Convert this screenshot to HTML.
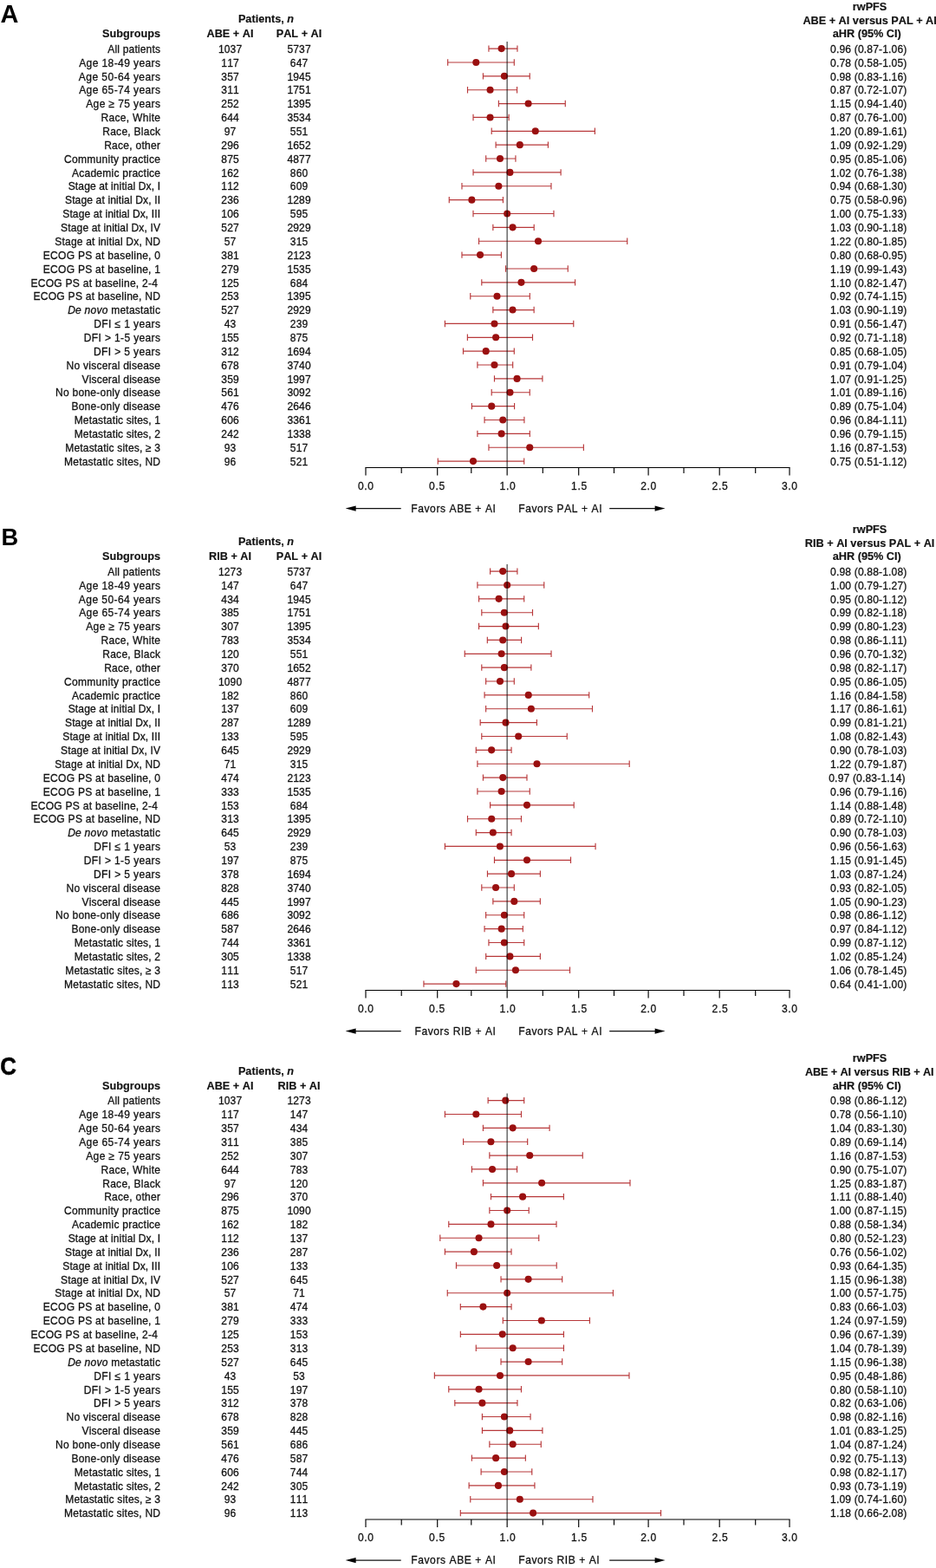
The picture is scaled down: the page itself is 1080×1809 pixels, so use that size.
<!DOCTYPE html>
<html lang="en"><head><meta charset="utf-8"><title>Forest plots: rwPFS subgroup analyses</title>
<style>
html,body{margin:0;padding:0;background:#fff;}
body{width:1080px;height:1809px;overflow:hidden;}
svg{display:block;font-family:"Liberation Sans",Arial,Helvetica,sans-serif;font-size:12.7px;fill:#111;font-kerning:none;}
text{stroke:#111;stroke-width:0.3px;}
text.b{font-weight:bold;fill:#111;stroke-width:0.15px;}
.r{text-anchor:end;}
.m{text-anchor:middle;}
text.L{font-weight:bold;font-size:29.5px;fill:#000;stroke:none;}
.e{stroke:#b8383a;stroke-width:1.15;fill:none;}
.c{fill:#9a1010;}
.ax{stroke:#000;stroke-width:1.15;fill:none;}
.v{stroke:#000;stroke-opacity:0.64;stroke-width:1.4;}
.ar{stroke:#111;stroke-width:1.05;}
</style></head><body>
<svg width="1080" height="1809" viewBox="0 0 1080 1809">
<rect width="1080" height="1809" fill="#fff"/>
<g transform="translate(0,0)">
<text class="L" transform="translate(0.6 26) scale(0.98 1)" style="font-size:29.5px;stroke:#000;stroke-width:0px">A</text>
<text class="b m" x="307" y="26.3">Patients, <tspan font-style="italic">n</tspan></text>
<text class="b r" x="185" y="43.3">Subgroups</text>
<text class="b m" x="265.5" y="43.3">ABE + AI</text>
<text class="b m" x="345" y="43.3">PAL + AI</text>
<text class="b m" x="1003.6" y="11.7">rwPFS</text>
<text class="b m" x="1003.6" y="27.8">ABE + AI versus PAL + AI</text>
<text class="b m" x="1000.3" y="43.3">aHR (95% CI)</text>
<text class="r" transform="translate(185 60.8) scale(0.95 1)" textLength="63.93">All patients</text>
<text class="m" transform="translate(265.5 60.8) scale(0.95 1)" textLength="28.68">1037</text>
<text class="m" transform="translate(345 60.8) scale(0.95 1)" textLength="28.68">5737</text>
<text class="m" transform="translate(1002.2 60.8) scale(0.95 1)" textLength="93.03">0.96 (0.87-1.06)</text>
<text class="r" transform="translate(185 76.67) scale(0.95 1)" textLength="98.79">Age 18-49 years</text>
<text class="m" transform="translate(265.5 76.67) scale(0.95 1)" textLength="21.51">117</text>
<text class="m" transform="translate(345 76.67) scale(0.95 1)" textLength="21.51">647</text>
<text class="m" transform="translate(1002.2 76.67) scale(0.95 1)" textLength="93.03">0.78 (0.58-1.05)</text>
<text class="r" transform="translate(185 92.53) scale(0.95 1)" textLength="99.1">Age 50-64 years</text>
<text class="m" transform="translate(265.5 92.53) scale(0.95 1)" textLength="21.51">357</text>
<text class="m" transform="translate(345 92.53) scale(0.95 1)" textLength="28.68">1945</text>
<text class="m" transform="translate(1002.2 92.53) scale(0.95 1)" textLength="93.03">0.98 (0.83-1.16)</text>
<text class="r" transform="translate(185 108.4) scale(0.95 1)" textLength="98.79">Age 65-74 years</text>
<text class="m" transform="translate(265.5 108.4) scale(0.95 1)" textLength="21.51">311</text>
<text class="m" transform="translate(345 108.4) scale(0.95 1)" textLength="28.68">1751</text>
<text class="m" transform="translate(1002.2 108.4) scale(0.95 1)" textLength="93.03">0.87 (0.72-1.07)</text>
<text class="r" transform="translate(185 124.27) scale(0.95 1)" textLength="90.38">Age ≥ 75 years</text>
<text class="m" transform="translate(265.5 124.27) scale(0.95 1)" textLength="21.51">252</text>
<text class="m" transform="translate(345 124.27) scale(0.95 1)" textLength="28.68">1395</text>
<text class="m" transform="translate(1002.2 124.27) scale(0.95 1)" textLength="93.03">1.15 (0.94-1.40)</text>
<text class="r" transform="translate(185 140.13) scale(0.95 1)" textLength="72.12">Race, White</text>
<text class="m" transform="translate(265.5 140.13) scale(0.95 1)" textLength="21.51">644</text>
<text class="m" transform="translate(345 140.13) scale(0.95 1)" textLength="28.68">3534</text>
<text class="m" transform="translate(1002.2 140.13) scale(0.95 1)" textLength="93.03">0.87 (0.76-1.00)</text>
<text class="r" transform="translate(185 156) scale(0.95 1)" textLength="70.32">Race, Black</text>
<text class="m" transform="translate(265.5 156) scale(0.95 1)" textLength="14.35">97</text>
<text class="m" transform="translate(345 156) scale(0.95 1)" textLength="21.51">551</text>
<text class="m" transform="translate(1002.2 156) scale(0.95 1)" textLength="93.03">1.20 (0.89-1.61)</text>
<text class="r" transform="translate(185 171.87) scale(0.95 1)" textLength="68.27">Race, other</text>
<text class="m" transform="translate(265.5 171.87) scale(0.95 1)" textLength="21.51">296</text>
<text class="m" transform="translate(345 171.87) scale(0.95 1)" textLength="28.68">1652</text>
<text class="m" transform="translate(1002.2 171.87) scale(0.95 1)" textLength="93.03">1.09 (0.92-1.29)</text>
<text class="r" transform="translate(185 187.74) scale(0.95 1)" textLength="116.75">Community practice</text>
<text class="m" transform="translate(265.5 187.74) scale(0.95 1)" textLength="21.51">875</text>
<text class="m" transform="translate(345 187.74) scale(0.95 1)" textLength="28.68">4877</text>
<text class="m" transform="translate(1002.2 187.74) scale(0.95 1)" textLength="93.03">0.95 (0.85-1.06)</text>
<text class="r" transform="translate(185 203.6) scale(0.95 1)" textLength="107.43">Academic practice</text>
<text class="m" transform="translate(265.5 203.6) scale(0.95 1)" textLength="21.51">162</text>
<text class="m" transform="translate(345 203.6) scale(0.95 1)" textLength="21.51">860</text>
<text class="m" transform="translate(1002.2 203.6) scale(0.95 1)" textLength="93.03">1.02 (0.76-1.38)</text>
<text class="r" transform="translate(185 219.47) scale(0.95 1)" textLength="111.91">Stage at initial Dx, I</text>
<text class="m" transform="translate(265.5 219.47) scale(0.95 1)" textLength="21.51">112</text>
<text class="m" transform="translate(345 219.47) scale(0.95 1)" textLength="21.51">609</text>
<text class="m" transform="translate(1002.2 219.47) scale(0.95 1)" textLength="93.03">0.94 (0.68-1.30)</text>
<text class="r" transform="translate(185 235.34) scale(0.95 1)" textLength="115.84">Stage at initial Dx, II</text>
<text class="m" transform="translate(265.5 235.34) scale(0.95 1)" textLength="21.51">236</text>
<text class="m" transform="translate(345 235.34) scale(0.95 1)" textLength="28.68">1289</text>
<text class="m" transform="translate(1002.2 235.34) scale(0.95 1)" textLength="93.03">0.75 (0.58-0.96)</text>
<text class="r" transform="translate(185 251.2) scale(0.95 1)" textLength="118.69">Stage at initial Dx, III</text>
<text class="m" transform="translate(265.5 251.2) scale(0.95 1)" textLength="21.51">106</text>
<text class="m" transform="translate(345 251.2) scale(0.95 1)" textLength="21.51">595</text>
<text class="m" transform="translate(1002.2 251.2) scale(0.95 1)" textLength="93.03">1.00 (0.75-1.33)</text>
<text class="r" transform="translate(185 267.07) scale(0.95 1)" textLength="121.03">Stage at initial Dx, IV</text>
<text class="m" transform="translate(265.5 267.07) scale(0.95 1)" textLength="21.51">527</text>
<text class="m" transform="translate(345 267.07) scale(0.95 1)" textLength="28.68">2929</text>
<text class="m" transform="translate(1002.2 267.07) scale(0.95 1)" textLength="93.03">1.03 (0.90-1.18)</text>
<text class="r" transform="translate(185 282.94) scale(0.95 1)" textLength="128.12">Stage at initial Dx, ND</text>
<text class="m" transform="translate(265.5 282.94) scale(0.95 1)" textLength="14.35">57</text>
<text class="m" transform="translate(345 282.94) scale(0.95 1)" textLength="21.51">315</text>
<text class="m" transform="translate(1002.2 282.94) scale(0.95 1)" textLength="93.03">1.22 (0.80-1.85)</text>
<text class="r" transform="translate(185 298.81) scale(0.95 1)" textLength="142.33">ECOG PS at baseline, 0</text>
<text class="m" transform="translate(265.5 298.81) scale(0.95 1)" textLength="21.51">381</text>
<text class="m" transform="translate(345 298.81) scale(0.95 1)" textLength="28.68">2123</text>
<text class="m" transform="translate(1002.2 298.81) scale(0.95 1)" textLength="93.03">0.80 (0.68-0.95)</text>
<text class="r" transform="translate(185 314.67) scale(0.95 1)" textLength="142.3">ECOG PS at baseline, 1</text>
<text class="m" transform="translate(265.5 314.67) scale(0.95 1)" textLength="21.51">279</text>
<text class="m" transform="translate(345 314.67) scale(0.95 1)" textLength="28.68">1535</text>
<text class="m" transform="translate(1002.2 314.67) scale(0.95 1)" textLength="93.03">1.19 (0.99-1.43)</text>
<text class="r" transform="translate(182 330.54) scale(0.95 1)" textLength="154.33">ECOG PS at baseline, 2-4</text>
<text class="m" transform="translate(265.5 330.54) scale(0.95 1)" textLength="21.51">125</text>
<text class="m" transform="translate(345 330.54) scale(0.95 1)" textLength="21.51">684</text>
<text class="m" transform="translate(1002.2 330.54) scale(0.95 1)" textLength="93.03">1.10 (0.82-1.47)</text>
<text class="r" transform="translate(185 346.41) scale(0.95 1)" textLength="154.33">ECOG PS at baseline, ND</text>
<text class="m" transform="translate(265.5 346.41) scale(0.95 1)" textLength="21.51">253</text>
<text class="m" transform="translate(345 346.41) scale(0.95 1)" textLength="28.68">1395</text>
<text class="m" transform="translate(1002.2 346.41) scale(0.95 1)" textLength="93.03">0.92 (0.74-1.15)</text>
<text class="r" transform="translate(185 362.27) scale(0.95 1)" textLength="112.45"><tspan font-style="italic">De novo</tspan> metastatic</text>
<text class="m" transform="translate(265.5 362.27) scale(0.95 1)" textLength="21.51">527</text>
<text class="m" transform="translate(345 362.27) scale(0.95 1)" textLength="28.68">2929</text>
<text class="m" transform="translate(1002.2 362.27) scale(0.95 1)" textLength="93.03">1.03 (0.90-1.19)</text>
<text class="r" transform="translate(185 378.14) scale(0.95 1)" textLength="80.84">DFI ≤ 1 years</text>
<text class="m" transform="translate(265.5 378.14) scale(0.95 1)" textLength="14.35">43</text>
<text class="m" transform="translate(345 378.14) scale(0.95 1)" textLength="21.51">239</text>
<text class="m" transform="translate(1002.2 378.14) scale(0.95 1)" textLength="93.03">0.91 (0.56-1.47)</text>
<text class="r" transform="translate(185 394.01) scale(0.95 1)" textLength="92.88">DFI &gt; 1-5 years</text>
<text class="m" transform="translate(265.5 394.01) scale(0.95 1)" textLength="21.51">155</text>
<text class="m" transform="translate(345 394.01) scale(0.95 1)" textLength="21.51">875</text>
<text class="m" transform="translate(1002.2 394.01) scale(0.95 1)" textLength="93.03">0.92 (0.71-1.18)</text>
<text class="r" transform="translate(185 409.87) scale(0.95 1)" textLength="81.01">DFI &gt; 5 years</text>
<text class="m" transform="translate(265.5 409.87) scale(0.95 1)" textLength="21.51">312</text>
<text class="m" transform="translate(345 409.87) scale(0.95 1)" textLength="28.68">1694</text>
<text class="m" transform="translate(1002.2 409.87) scale(0.95 1)" textLength="93.03">0.85 (0.68-1.05)</text>
<text class="r" transform="translate(185 425.74) scale(0.95 1)" textLength="114.09">No visceral disease</text>
<text class="m" transform="translate(265.5 425.74) scale(0.95 1)" textLength="21.51">678</text>
<text class="m" transform="translate(345 425.74) scale(0.95 1)" textLength="28.68">3740</text>
<text class="m" transform="translate(1002.2 425.74) scale(0.95 1)" textLength="93.03">0.91 (0.79-1.04)</text>
<text class="r" transform="translate(185 441.61) scale(0.95 1)" textLength="95.38">Visceral disease</text>
<text class="m" transform="translate(265.5 441.61) scale(0.95 1)" textLength="21.51">359</text>
<text class="m" transform="translate(345 441.61) scale(0.95 1)" textLength="28.68">1997</text>
<text class="m" transform="translate(1002.2 441.61) scale(0.95 1)" textLength="93.03">1.07 (0.91-1.25)</text>
<text class="r" transform="translate(185 457.48) scale(0.95 1)" textLength="127.32">No bone-only disease</text>
<text class="m" transform="translate(265.5 457.48) scale(0.95 1)" textLength="21.51">561</text>
<text class="m" transform="translate(345 457.48) scale(0.95 1)" textLength="28.68">3092</text>
<text class="m" transform="translate(1002.2 457.48) scale(0.95 1)" textLength="93.03">1.01 (0.89-1.16)</text>
<text class="r" transform="translate(185 473.34) scale(0.95 1)" textLength="108.01">Bone-only disease</text>
<text class="m" transform="translate(265.5 473.34) scale(0.95 1)" textLength="21.51">476</text>
<text class="m" transform="translate(345 473.34) scale(0.95 1)" textLength="28.68">2646</text>
<text class="m" transform="translate(1002.2 473.34) scale(0.95 1)" textLength="93.03">0.89 (0.75-1.04)</text>
<text class="r" transform="translate(185 489.21) scale(0.95 1)" textLength="104.58">Metastatic sites, 1</text>
<text class="m" transform="translate(265.5 489.21) scale(0.95 1)" textLength="21.51">606</text>
<text class="m" transform="translate(345 489.21) scale(0.95 1)" textLength="28.68">3361</text>
<text class="m" transform="translate(1002.2 489.21) scale(0.95 1)" textLength="93.03">0.96 (0.84-1.11)</text>
<text class="r" transform="translate(185 505.08) scale(0.95 1)" textLength="104.58">Metastatic sites, 2</text>
<text class="m" transform="translate(265.5 505.08) scale(0.95 1)" textLength="21.51">242</text>
<text class="m" transform="translate(345 505.08) scale(0.95 1)" textLength="28.68">1338</text>
<text class="m" transform="translate(1002.2 505.08) scale(0.95 1)" textLength="93.03">0.96 (0.79-1.15)</text>
<text class="r" transform="translate(185 520.94) scale(0.95 1)" textLength="115.61">Metastatic sites, ≥ 3</text>
<text class="m" transform="translate(265.5 520.94) scale(0.95 1)" textLength="14.35">93</text>
<text class="m" transform="translate(345 520.94) scale(0.95 1)" textLength="21.51">517</text>
<text class="m" transform="translate(1002.2 520.94) scale(0.95 1)" textLength="93.03">1.16 (0.87-1.53)</text>
<text class="r" transform="translate(185 536.81) scale(0.95 1)" textLength="116.88">Metastatic sites, ND</text>
<text class="m" transform="translate(265.5 536.81) scale(0.95 1)" textLength="14.35">96</text>
<text class="m" transform="translate(345 536.81) scale(0.95 1)" textLength="21.51">521</text>
<text class="m" transform="translate(1002.2 536.81) scale(0.95 1)" textLength="93.03">0.75 (0.51-1.12)</text>
<path class="e" d="M563.95 56.1H596.93M563.95 52.4V59.8M596.93 52.4V59.8M516.67 71.97H593.3M516.67 68.27V75.67M593.3 68.27V75.67M557.43 87.83H611.24M557.43 84.13V91.53M611.24 84.13V91.53M539.5 103.7H596.56M539.5 100V107.4M596.56 100V107.4M575.37 119.57H652.27M575.37 115.87V123.27M652.27 115.87V123.27M546.02 135.44H587.15M546.02 131.74V139.13M587.15 131.74V139.13M567.21 151.3H686.41M567.21 147.6V155M686.41 147.6V155M572.11 167.17H632.43M572.11 163.47V170.87M632.43 163.47V170.87M560.69 183.04H594.93M560.69 179.34V186.74M594.93 179.34V186.74M546.02 198.9H647.11M546.02 195.2V202.6M647.11 195.2V202.6M532.97 214.77H635.97M532.97 211.07V218.47M635.97 211.07V218.47M518.27 230.64H580.43M518.27 226.94V234.34M580.43 226.94V234.34M545.99 246.5H638.96M545.99 242.8V250.2M638.96 242.8V250.2M568.85 262.37H616.2M568.85 258.67V266.07M616.2 258.67V266.07M552.54 278.24H723.74M552.54 274.54V281.94M723.74 274.54V281.94M532.97 294.11H578.4M532.97 290.41V297.81M578.4 290.41V297.81M583.52 309.97H655.26M583.52 306.27V313.67M655.26 306.27V313.67M555.8 325.84H663.58M555.8 322.14V329.54M663.58 322.14V329.54M542.76 341.71H611.31M542.76 338.01V345.41M611.31 338.01V345.41M568.85 357.57H616.13M568.85 353.87V361.27M616.13 353.87V361.27M513.41 373.44H661.78M513.41 369.74V377.14M661.78 369.74V377.14M539.37 389.31H614.5M539.37 385.61V393.01M614.5 385.61V393.01M534.47 405.17H593.3M534.47 401.47V408.87M593.3 401.47V408.87M550.91 421.04H591.67M550.91 417.34V424.74M591.67 417.34V424.74M570.48 436.91H625.91M570.48 433.21V440.61M625.91 433.21V440.61M567.21 452.78H611.24M567.21 449.08V456.48M611.24 449.08V456.48M544.39 468.64H593.57M544.39 464.94V472.34M593.57 464.94V472.34M559.06 484.51H604.89M559.06 480.81V488.21M604.89 480.81V488.21M550.91 500.38H611.31M550.91 496.68V504.08M611.31 496.68V504.08M563.95 516.24H673.37M563.95 512.54V519.94M673.37 512.54V519.94M505.26 532.11H604.72M505.26 528.41V535.81M604.72 528.41V535.81"/>
<circle class="c" cx="578.63" cy="56.1" r="4.05"/>
<circle class="c" cx="549.28" cy="71.97" r="4.05"/>
<circle class="c" cx="581.89" cy="87.83" r="4.05"/>
<circle class="c" cx="565.55" cy="103.7" r="4.05"/>
<circle class="c" cx="609.61" cy="119.57" r="4.05"/>
<circle class="c" cx="565.55" cy="135.44" r="4.05"/>
<circle class="c" cx="617.76" cy="151.3" r="4.05"/>
<circle class="c" cx="599.82" cy="167.17" r="4.05"/>
<circle class="c" cx="577" cy="183.04" r="4.05"/>
<circle class="c" cx="588.41" cy="198.9" r="4.05"/>
<circle class="c" cx="575.37" cy="214.77" r="4.05"/>
<circle class="c" cx="544.39" cy="230.64" r="4.05"/>
<circle class="c" cx="585.15" cy="246.5" r="4.05"/>
<circle class="c" cx="591.54" cy="262.37" r="4.05"/>
<circle class="c" cx="621.02" cy="278.24" r="4.05"/>
<circle class="c" cx="554.04" cy="294.11" r="4.05"/>
<circle class="c" cx="616.13" cy="309.97" r="4.05"/>
<circle class="c" cx="601.46" cy="325.84" r="4.05"/>
<circle class="c" cx="573.51" cy="341.71" r="4.05"/>
<circle class="c" cx="591.54" cy="357.57" r="4.05"/>
<circle class="c" cx="570.48" cy="373.44" r="4.05"/>
<circle class="c" cx="572.11" cy="389.31" r="4.05"/>
<circle class="c" cx="560.69" cy="405.17" r="4.05"/>
<circle class="c" cx="570.48" cy="421.04" r="4.05"/>
<circle class="c" cx="596.56" cy="436.91" r="4.05"/>
<circle class="c" cx="588.48" cy="452.78" r="4.05"/>
<circle class="c" cx="567.21" cy="468.64" r="4.05"/>
<circle class="c" cx="580.23" cy="484.51" r="4.05"/>
<circle class="c" cx="578.63" cy="500.38" r="4.05"/>
<circle class="c" cx="611.24" cy="516.24" r="4.05"/>
<circle class="c" cx="545.99" cy="532.11" r="4.05"/>
<line class="v" x1="585.15" x2="585.15" y1="48" y2="539.5"/>
<path class="ax" d="M421.35 539.5H911.65M422 539.5V548.6M463.2 539.5V545.9M504.7 539.5V548.6M543.8 539.5V545.9M585.15 539.5V548.6M626.3 539.5V545.9M667.7 539.5V548.6M708.5 539.5V545.9M748.1 539.5V548.6M789 539.5V545.9M830.2 539.5V548.6M871.7 539.5V545.9M911 539.5V548.6"/>
<text class="m" transform="translate(422 564.9) scale(0.95 1)" textLength="18.99">0.0</text>
<text class="m" transform="translate(504.1 564.9) scale(0.95 1)" textLength="18.99">0.5</text>
<text class="m" transform="translate(585.6 564.9) scale(0.95 1)" textLength="18.99">1.0</text>
<text class="m" transform="translate(668.1 564.9) scale(0.95 1)" textLength="18.99">1.5</text>
<text class="m" transform="translate(748.2 564.9) scale(0.95 1)" textLength="18.99">2.0</text>
<text class="m" transform="translate(830.6 564.9) scale(0.95 1)" textLength="18.99">2.5</text>
<text class="m" transform="translate(911 564.9) scale(0.95 1)" textLength="18.99">3.0</text>
<text class="r" transform="translate(571.9 591.3) scale(0.95 1)" textLength="102.78">Favors ABE + AI</text>
<text transform="translate(598.3 591.3) scale(0.95 1)" textLength="101.3">Favors PAL + AI</text>
<line class="ar" x1="409" x2="462.7" y1="586.6" y2="586.6"/>
<path d="M398.6 586.6L410.6 583.5L410.6 589.7Z" fill="#000"/>
<line class="ar" x1="703.2" x2="757" y1="586.6" y2="586.6"/>
<path d="M767.6 586.6L755.6 583.5L755.6 589.7Z" fill="#000"/>
</g>
<g transform="translate(0,603)">
<text class="L" transform="translate(1.45 25.7) scale(0.977 1)" style="font-size:27.9px;stroke:#000;stroke-width:0px">B</text>
<text class="b m" x="307" y="26.3">Patients, <tspan font-style="italic">n</tspan></text>
<text class="b r" x="185" y="43.3">Subgroups</text>
<text class="b m" x="265.5" y="43.3">RIB + AI</text>
<text class="b m" x="345" y="43.3">PAL + AI</text>
<text class="b m" x="1003.6" y="11.7">rwPFS</text>
<text class="b m" x="1003.6" y="27.8">RIB + AI versus PAL + AI</text>
<text class="b m" x="1000.3" y="43.3">aHR (95% CI)</text>
<text class="r" transform="translate(185 60.8) scale(0.95 1)" textLength="63.93">All patients</text>
<text class="m" transform="translate(265.5 60.8) scale(0.95 1)" textLength="28.68">1273</text>
<text class="m" transform="translate(345 60.8) scale(0.95 1)" textLength="28.68">5737</text>
<text class="m" transform="translate(1002.2 60.8) scale(0.95 1)" textLength="93.03">0.98 (0.88-1.08)</text>
<text class="r" transform="translate(185 76.67) scale(0.95 1)" textLength="98.79">Age 18-49 years</text>
<text class="m" transform="translate(265.5 76.67) scale(0.95 1)" textLength="21.51">147</text>
<text class="m" transform="translate(345 76.67) scale(0.95 1)" textLength="21.51">647</text>
<text class="m" transform="translate(1002.2 76.67) scale(0.95 1)" textLength="93.03">1.00 (0.79-1.27)</text>
<text class="r" transform="translate(185 92.53) scale(0.95 1)" textLength="99.1">Age 50-64 years</text>
<text class="m" transform="translate(265.5 92.53) scale(0.95 1)" textLength="21.51">434</text>
<text class="m" transform="translate(345 92.53) scale(0.95 1)" textLength="28.68">1945</text>
<text class="m" transform="translate(1002.2 92.53) scale(0.95 1)" textLength="93.03">0.95 (0.80-1.12)</text>
<text class="r" transform="translate(185 108.4) scale(0.95 1)" textLength="98.79">Age 65-74 years</text>
<text class="m" transform="translate(265.5 108.4) scale(0.95 1)" textLength="21.51">385</text>
<text class="m" transform="translate(345 108.4) scale(0.95 1)" textLength="28.68">1751</text>
<text class="m" transform="translate(1002.2 108.4) scale(0.95 1)" textLength="93.03">0.99 (0.82-1.18)</text>
<text class="r" transform="translate(185 124.27) scale(0.95 1)" textLength="90.38">Age ≥ 75 years</text>
<text class="m" transform="translate(265.5 124.27) scale(0.95 1)" textLength="21.51">307</text>
<text class="m" transform="translate(345 124.27) scale(0.95 1)" textLength="28.68">1395</text>
<text class="m" transform="translate(1002.2 124.27) scale(0.95 1)" textLength="93.03">0.99 (0.80-1.23)</text>
<text class="r" transform="translate(185 140.13) scale(0.95 1)" textLength="72.12">Race, White</text>
<text class="m" transform="translate(265.5 140.13) scale(0.95 1)" textLength="21.51">783</text>
<text class="m" transform="translate(345 140.13) scale(0.95 1)" textLength="28.68">3534</text>
<text class="m" transform="translate(1002.2 140.13) scale(0.95 1)" textLength="93.03">0.98 (0.86-1.11)</text>
<text class="r" transform="translate(185 156) scale(0.95 1)" textLength="70.32">Race, Black</text>
<text class="m" transform="translate(265.5 156) scale(0.95 1)" textLength="21.51">120</text>
<text class="m" transform="translate(345 156) scale(0.95 1)" textLength="21.51">551</text>
<text class="m" transform="translate(1002.2 156) scale(0.95 1)" textLength="93.03">0.96 (0.70-1.32)</text>
<text class="r" transform="translate(185 171.87) scale(0.95 1)" textLength="68.27">Race, other</text>
<text class="m" transform="translate(265.5 171.87) scale(0.95 1)" textLength="21.51">370</text>
<text class="m" transform="translate(345 171.87) scale(0.95 1)" textLength="28.68">1652</text>
<text class="m" transform="translate(1002.2 171.87) scale(0.95 1)" textLength="93.03">0.98 (0.82-1.17)</text>
<text class="r" transform="translate(185 187.74) scale(0.95 1)" textLength="116.75">Community practice</text>
<text class="m" transform="translate(265.5 187.74) scale(0.95 1)" textLength="28.68">1090</text>
<text class="m" transform="translate(345 187.74) scale(0.95 1)" textLength="28.68">4877</text>
<text class="m" transform="translate(1002.2 187.74) scale(0.95 1)" textLength="93.03">0.95 (0.86-1.05)</text>
<text class="r" transform="translate(185 203.6) scale(0.95 1)" textLength="107.43">Academic practice</text>
<text class="m" transform="translate(265.5 203.6) scale(0.95 1)" textLength="21.51">182</text>
<text class="m" transform="translate(345 203.6) scale(0.95 1)" textLength="21.51">860</text>
<text class="m" transform="translate(1002.2 203.6) scale(0.95 1)" textLength="93.03">1.16 (0.84-1.58)</text>
<text class="r" transform="translate(185 219.47) scale(0.95 1)" textLength="111.91">Stage at initial Dx, I</text>
<text class="m" transform="translate(265.5 219.47) scale(0.95 1)" textLength="21.51">137</text>
<text class="m" transform="translate(345 219.47) scale(0.95 1)" textLength="21.51">609</text>
<text class="m" transform="translate(1002.2 219.47) scale(0.95 1)" textLength="93.03">1.17 (0.86-1.61)</text>
<text class="r" transform="translate(185 235.34) scale(0.95 1)" textLength="115.84">Stage at initial Dx, II</text>
<text class="m" transform="translate(265.5 235.34) scale(0.95 1)" textLength="21.51">287</text>
<text class="m" transform="translate(345 235.34) scale(0.95 1)" textLength="28.68">1289</text>
<text class="m" transform="translate(1002.2 235.34) scale(0.95 1)" textLength="93.03">0.99 (0.81-1.21)</text>
<text class="r" transform="translate(185 251.2) scale(0.95 1)" textLength="118.69">Stage at initial Dx, III</text>
<text class="m" transform="translate(265.5 251.2) scale(0.95 1)" textLength="21.51">133</text>
<text class="m" transform="translate(345 251.2) scale(0.95 1)" textLength="21.51">595</text>
<text class="m" transform="translate(1002.2 251.2) scale(0.95 1)" textLength="93.03">1.08 (0.82-1.43)</text>
<text class="r" transform="translate(185 267.07) scale(0.95 1)" textLength="121.03">Stage at initial Dx, IV</text>
<text class="m" transform="translate(265.5 267.07) scale(0.95 1)" textLength="21.51">645</text>
<text class="m" transform="translate(345 267.07) scale(0.95 1)" textLength="28.68">2929</text>
<text class="m" transform="translate(1002.2 267.07) scale(0.95 1)" textLength="93.03">0.90 (0.78-1.03)</text>
<text class="r" transform="translate(185 282.94) scale(0.95 1)" textLength="128.12">Stage at initial Dx, ND</text>
<text class="m" transform="translate(265.5 282.94) scale(0.95 1)" textLength="14.35">71</text>
<text class="m" transform="translate(345 282.94) scale(0.95 1)" textLength="21.51">315</text>
<text class="m" transform="translate(1002.2 282.94) scale(0.95 1)" textLength="93.03">1.22 (0.79-1.87)</text>
<text class="r" transform="translate(185 298.81) scale(0.95 1)" textLength="142.33">ECOG PS at baseline, 0</text>
<text class="m" transform="translate(265.5 298.81) scale(0.95 1)" textLength="21.51">474</text>
<text class="m" transform="translate(345 298.81) scale(0.95 1)" textLength="28.68">2123</text>
<text class="m" transform="translate(1000.4 298.81) scale(0.95 1)" textLength="93.03">0.97 (0.83-1.14)</text>
<text class="r" transform="translate(185 314.67) scale(0.95 1)" textLength="142.3">ECOG PS at baseline, 1</text>
<text class="m" transform="translate(265.5 314.67) scale(0.95 1)" textLength="21.51">333</text>
<text class="m" transform="translate(345 314.67) scale(0.95 1)" textLength="28.68">1535</text>
<text class="m" transform="translate(1002.2 314.67) scale(0.95 1)" textLength="93.03">0.96 (0.79-1.16)</text>
<text class="r" transform="translate(182 330.54) scale(0.95 1)" textLength="154.33">ECOG PS at baseline, 2-4</text>
<text class="m" transform="translate(265.5 330.54) scale(0.95 1)" textLength="21.51">153</text>
<text class="m" transform="translate(345 330.54) scale(0.95 1)" textLength="21.51">684</text>
<text class="m" transform="translate(1002.2 330.54) scale(0.95 1)" textLength="93.03">1.14 (0.88-1.48)</text>
<text class="r" transform="translate(185 346.41) scale(0.95 1)" textLength="154.33">ECOG PS at baseline, ND</text>
<text class="m" transform="translate(265.5 346.41) scale(0.95 1)" textLength="21.51">313</text>
<text class="m" transform="translate(345 346.41) scale(0.95 1)" textLength="28.68">1395</text>
<text class="m" transform="translate(1002.2 346.41) scale(0.95 1)" textLength="93.03">0.89 (0.72-1.10)</text>
<text class="r" transform="translate(185 362.27) scale(0.95 1)" textLength="112.45"><tspan font-style="italic">De novo</tspan> metastatic</text>
<text class="m" transform="translate(265.5 362.27) scale(0.95 1)" textLength="21.51">645</text>
<text class="m" transform="translate(345 362.27) scale(0.95 1)" textLength="28.68">2929</text>
<text class="m" transform="translate(1002.2 362.27) scale(0.95 1)" textLength="93.03">0.90 (0.78-1.03)</text>
<text class="r" transform="translate(185 378.14) scale(0.95 1)" textLength="80.84">DFI ≤ 1 years</text>
<text class="m" transform="translate(265.5 378.14) scale(0.95 1)" textLength="14.35">53</text>
<text class="m" transform="translate(345 378.14) scale(0.95 1)" textLength="21.51">239</text>
<text class="m" transform="translate(1002.2 378.14) scale(0.95 1)" textLength="93.03">0.96 (0.56-1.63)</text>
<text class="r" transform="translate(185 394.01) scale(0.95 1)" textLength="92.88">DFI &gt; 1-5 years</text>
<text class="m" transform="translate(265.5 394.01) scale(0.95 1)" textLength="21.51">197</text>
<text class="m" transform="translate(345 394.01) scale(0.95 1)" textLength="21.51">875</text>
<text class="m" transform="translate(1002.2 394.01) scale(0.95 1)" textLength="93.03">1.15 (0.91-1.45)</text>
<text class="r" transform="translate(185 409.87) scale(0.95 1)" textLength="81.01">DFI &gt; 5 years</text>
<text class="m" transform="translate(265.5 409.87) scale(0.95 1)" textLength="21.51">378</text>
<text class="m" transform="translate(345 409.87) scale(0.95 1)" textLength="28.68">1694</text>
<text class="m" transform="translate(1002.2 409.87) scale(0.95 1)" textLength="93.03">1.03 (0.87-1.24)</text>
<text class="r" transform="translate(185 425.74) scale(0.95 1)" textLength="114.09">No visceral disease</text>
<text class="m" transform="translate(265.5 425.74) scale(0.95 1)" textLength="21.51">828</text>
<text class="m" transform="translate(345 425.74) scale(0.95 1)" textLength="28.68">3740</text>
<text class="m" transform="translate(1002.2 425.74) scale(0.95 1)" textLength="93.03">0.93 (0.82-1.05)</text>
<text class="r" transform="translate(185 441.61) scale(0.95 1)" textLength="95.38">Visceral disease</text>
<text class="m" transform="translate(265.5 441.61) scale(0.95 1)" textLength="21.51">445</text>
<text class="m" transform="translate(345 441.61) scale(0.95 1)" textLength="28.68">1997</text>
<text class="m" transform="translate(1002.2 441.61) scale(0.95 1)" textLength="93.03">1.05 (0.90-1.23)</text>
<text class="r" transform="translate(185 457.48) scale(0.95 1)" textLength="127.32">No bone-only disease</text>
<text class="m" transform="translate(265.5 457.48) scale(0.95 1)" textLength="21.51">686</text>
<text class="m" transform="translate(345 457.48) scale(0.95 1)" textLength="28.68">3092</text>
<text class="m" transform="translate(1002.2 457.48) scale(0.95 1)" textLength="93.03">0.98 (0.86-1.12)</text>
<text class="r" transform="translate(185 473.34) scale(0.95 1)" textLength="108.01">Bone-only disease</text>
<text class="m" transform="translate(265.5 473.34) scale(0.95 1)" textLength="21.51">587</text>
<text class="m" transform="translate(345 473.34) scale(0.95 1)" textLength="28.68">2646</text>
<text class="m" transform="translate(1002.2 473.34) scale(0.95 1)" textLength="93.03">0.97 (0.84-1.12)</text>
<text class="r" transform="translate(185 489.21) scale(0.95 1)" textLength="104.58">Metastatic sites, 1</text>
<text class="m" transform="translate(265.5 489.21) scale(0.95 1)" textLength="21.51">744</text>
<text class="m" transform="translate(345 489.21) scale(0.95 1)" textLength="28.68">3361</text>
<text class="m" transform="translate(1002.2 489.21) scale(0.95 1)" textLength="93.03">0.99 (0.87-1.12)</text>
<text class="r" transform="translate(185 505.08) scale(0.95 1)" textLength="104.58">Metastatic sites, 2</text>
<text class="m" transform="translate(265.5 505.08) scale(0.95 1)" textLength="21.51">305</text>
<text class="m" transform="translate(345 505.08) scale(0.95 1)" textLength="28.68">1338</text>
<text class="m" transform="translate(1002.2 505.08) scale(0.95 1)" textLength="93.03">1.02 (0.85-1.24)</text>
<text class="r" transform="translate(185 520.94) scale(0.95 1)" textLength="115.61">Metastatic sites, ≥ 3</text>
<text class="m" transform="translate(265.5 520.94) scale(0.95 1)" textLength="21.51">111</text>
<text class="m" transform="translate(345 520.94) scale(0.95 1)" textLength="21.51">517</text>
<text class="m" transform="translate(1002.2 520.94) scale(0.95 1)" textLength="93.03">1.06 (0.78-1.45)</text>
<text class="r" transform="translate(185 536.81) scale(0.95 1)" textLength="116.88">Metastatic sites, ND</text>
<text class="m" transform="translate(265.5 536.81) scale(0.95 1)" textLength="21.51">113</text>
<text class="m" transform="translate(345 536.81) scale(0.95 1)" textLength="21.51">521</text>
<text class="m" transform="translate(1002.2 536.81) scale(0.95 1)" textLength="93.03">0.64 (0.41-1.00)</text>
<path class="e" d="M565.58 56.1H596.89M565.58 52.4V59.8M596.89 52.4V59.8M550.91 71.97H627.77M550.91 68.27V75.67M627.77 68.27V75.67M552.54 87.83H604.72M552.54 84.13V91.53M604.72 84.13V91.53M555.8 103.7H614.5M555.8 100V107.4M614.5 100V107.4M552.54 119.57H621.35M552.54 115.87V123.27M621.35 115.87V123.27M562.32 135.44H601.59M562.32 131.74V139.13M601.59 131.74V139.13M536.24 151.3H636.03M536.24 147.6V155M636.03 147.6V155M555.8 167.17H612.87M555.8 163.47V170.87M612.87 163.47V170.87M560.62 183.04H593.3M560.62 179.34V186.74M593.3 179.34V186.74M559.06 198.9H679.72M559.06 195.2V202.6M679.72 195.2V202.6M560.62 214.77H683.51M560.62 211.07V218.47M683.51 211.07V218.47M554.17 230.64H619.39M554.17 226.94V234.34M619.39 226.94V234.34M555.8 246.5H654.26M555.8 242.8V250.2M654.26 242.8V250.2M549.28 262.37H590.04M549.28 258.67V266.07M590.04 258.67V266.07M550.91 278.24H726.2M550.91 274.54V281.94M726.2 274.54V281.94M557.43 294.11H607.98M557.43 290.41V297.81M607.98 290.41V297.81M550.91 309.97H611.24M550.91 306.27V313.67M611.24 306.27V313.67M565.58 325.84H662.21M565.58 322.14V329.54M662.21 322.14V329.54M539.5 341.71H601.46M539.5 338.01V345.41M601.46 338.01V345.41M549.28 357.57H590.04M549.28 353.87V361.27M590.04 353.87V361.27M513.41 373.44H687.07M513.41 369.74V377.14M687.07 369.74V377.14M570.48 389.31H658.52M570.48 385.61V393.01M658.52 385.61V393.01M562.45 405.17H623.38M562.45 401.47V408.87M623.38 401.47V408.87M555.8 421.04H593.3M555.8 417.34V424.74M593.3 417.34V424.74M568.85 436.91H623.35M568.85 433.21V440.61M623.35 433.21V440.61M560.62 452.78H604.72M560.62 449.08V456.48M604.72 449.08V456.48M559.06 468.64H603.32M559.06 464.94V472.34M603.32 464.94V472.34M563.95 484.51H604.72M563.95 480.81V488.21M604.72 480.81V488.21M560.69 500.38H623.38M560.69 496.68V504.08M623.38 496.68V504.08M549.28 516.24H657.52M549.28 512.54V519.94M657.52 512.54V519.94M488.95 532.11H583.75M488.95 528.41V535.81M583.75 528.41V535.81"/>
<circle class="c" cx="580.19" cy="56.1" r="4.05"/>
<circle class="c" cx="585.15" cy="71.97" r="4.05"/>
<circle class="c" cx="575.6" cy="87.83" r="4.05"/>
<circle class="c" cx="581.82" cy="103.7" r="4.05"/>
<circle class="c" cx="583.52" cy="119.57" r="4.05"/>
<circle class="c" cx="580.19" cy="135.44" r="4.05"/>
<circle class="c" cx="578.63" cy="151.3" r="4.05"/>
<circle class="c" cx="581.89" cy="167.17" r="4.05"/>
<circle class="c" cx="577" cy="183.04" r="4.05"/>
<circle class="c" cx="609.74" cy="198.9" r="4.05"/>
<circle class="c" cx="612.87" cy="214.77" r="4.05"/>
<circle class="c" cx="583.52" cy="230.64" r="4.05"/>
<circle class="c" cx="598.19" cy="246.5" r="4.05"/>
<circle class="c" cx="567.14" cy="262.37" r="4.05"/>
<circle class="c" cx="619.52" cy="278.24" r="4.05"/>
<circle class="c" cx="580.26" cy="294.11" r="4.05"/>
<circle class="c" cx="578.63" cy="309.97" r="4.05"/>
<circle class="c" cx="607.98" cy="325.84" r="4.05"/>
<circle class="c" cx="567.21" cy="341.71" r="4.05"/>
<circle class="c" cx="568.85" cy="357.57" r="4.05"/>
<circle class="c" cx="576.93" cy="373.44" r="4.05"/>
<circle class="c" cx="608.01" cy="389.31" r="4.05"/>
<circle class="c" cx="590.04" cy="405.17" r="4.05"/>
<circle class="c" cx="572.04" cy="421.04" r="4.05"/>
<circle class="c" cx="593.3" cy="436.91" r="4.05"/>
<circle class="c" cx="581.89" cy="452.78" r="4.05"/>
<circle class="c" cx="578.66" cy="468.64" r="4.05"/>
<circle class="c" cx="581.82" cy="484.51" r="4.05"/>
<circle class="c" cx="588.41" cy="500.38" r="4.05"/>
<circle class="c" cx="594.93" cy="516.24" r="4.05"/>
<circle class="c" cx="526.45" cy="532.11" r="4.05"/>
<line class="v" x1="585.15" x2="585.15" y1="48" y2="539.5"/>
<path class="ax" d="M421.35 539.5H911.65M422 539.5V548.6M463.2 539.5V545.9M504.7 539.5V548.6M543.8 539.5V545.9M585.15 539.5V548.6M626.3 539.5V545.9M667.7 539.5V548.6M708.5 539.5V545.9M748.1 539.5V548.6M789 539.5V545.9M830.2 539.5V548.6M871.7 539.5V545.9M911 539.5V548.6"/>
<text class="m" transform="translate(422 564.9) scale(0.95 1)" textLength="18.99">0.0</text>
<text class="m" transform="translate(504.1 564.9) scale(0.95 1)" textLength="18.99">0.5</text>
<text class="m" transform="translate(585.6 564.9) scale(0.95 1)" textLength="18.99">1.0</text>
<text class="m" transform="translate(668.1 564.9) scale(0.95 1)" textLength="18.99">1.5</text>
<text class="m" transform="translate(748.2 564.9) scale(0.95 1)" textLength="18.99">2.0</text>
<text class="m" transform="translate(830.6 564.9) scale(0.95 1)" textLength="18.99">2.5</text>
<text class="m" transform="translate(911 564.9) scale(0.95 1)" textLength="18.99">3.0</text>
<text class="r" transform="translate(571.9 591.3) scale(0.95 1)" textLength="98.32">Favors RIB + AI</text>
<text transform="translate(598.3 591.3) scale(0.95 1)" textLength="101.3">Favors PAL + AI</text>
<line class="ar" x1="409" x2="462.7" y1="586.6" y2="586.6"/>
<path d="M398.6 586.6L410.6 583.5L410.6 589.7Z" fill="#000"/>
<line class="ar" x1="703.2" x2="757" y1="586.6" y2="586.6"/>
<path d="M767.6 586.6L755.6 583.5L755.6 589.7Z" fill="#000"/>
</g>
<g transform="translate(0,1213.5)">
<text class="L" transform="translate(0.3 26.4) scale(0.885 1)" style="font-size:29.2px;stroke:#000;stroke-width:0.6px">C</text>
<text class="b m" x="307" y="26.3">Patients, <tspan font-style="italic">n</tspan></text>
<text class="b r" x="185" y="43.3">Subgroups</text>
<text class="b m" x="265.5" y="43.3">ABE + AI</text>
<text class="b m" x="345" y="43.3">RIB + AI</text>
<text class="b m" x="1003.6" y="11.7">rwPFS</text>
<text class="b m" x="1003.2" y="27.8" textLength="148.6">ABE + AI versus RIB + AI</text>
<text class="b m" x="1000.3" y="43.3">aHR (95% CI)</text>
<text class="r" transform="translate(185 60.8) scale(0.95 1)" textLength="63.93">All patients</text>
<text class="m" transform="translate(265.5 60.8) scale(0.95 1)" textLength="28.68">1037</text>
<text class="m" transform="translate(345 60.8) scale(0.95 1)" textLength="28.68">1273</text>
<text class="m" transform="translate(1002.2 60.8) scale(0.95 1)" textLength="93.03">0.98 (0.86-1.12)</text>
<text class="r" transform="translate(185 76.67) scale(0.95 1)" textLength="98.79">Age 18-49 years</text>
<text class="m" transform="translate(265.5 76.67) scale(0.95 1)" textLength="21.51">117</text>
<text class="m" transform="translate(345 76.67) scale(0.95 1)" textLength="21.51">147</text>
<text class="m" transform="translate(1002.2 76.67) scale(0.95 1)" textLength="93.03">0.78 (0.56-1.10)</text>
<text class="r" transform="translate(185 92.53) scale(0.95 1)" textLength="99.1">Age 50-64 years</text>
<text class="m" transform="translate(265.5 92.53) scale(0.95 1)" textLength="21.51">357</text>
<text class="m" transform="translate(345 92.53) scale(0.95 1)" textLength="21.51">434</text>
<text class="m" transform="translate(1002.2 92.53) scale(0.95 1)" textLength="93.03">1.04 (0.83-1.30)</text>
<text class="r" transform="translate(185 108.4) scale(0.95 1)" textLength="98.79">Age 65-74 years</text>
<text class="m" transform="translate(265.5 108.4) scale(0.95 1)" textLength="21.51">311</text>
<text class="m" transform="translate(345 108.4) scale(0.95 1)" textLength="21.51">385</text>
<text class="m" transform="translate(1002.2 108.4) scale(0.95 1)" textLength="93.03">0.89 (0.69-1.14)</text>
<text class="r" transform="translate(185 124.27) scale(0.95 1)" textLength="90.38">Age ≥ 75 years</text>
<text class="m" transform="translate(265.5 124.27) scale(0.95 1)" textLength="21.51">252</text>
<text class="m" transform="translate(345 124.27) scale(0.95 1)" textLength="21.51">307</text>
<text class="m" transform="translate(1002.2 124.27) scale(0.95 1)" textLength="93.03">1.16 (0.87-1.53)</text>
<text class="r" transform="translate(185 140.13) scale(0.95 1)" textLength="72.12">Race, White</text>
<text class="m" transform="translate(265.5 140.13) scale(0.95 1)" textLength="21.51">644</text>
<text class="m" transform="translate(345 140.13) scale(0.95 1)" textLength="21.51">783</text>
<text class="m" transform="translate(1002.2 140.13) scale(0.95 1)" textLength="93.03">0.90 (0.75-1.07)</text>
<text class="r" transform="translate(185 156) scale(0.95 1)" textLength="70.32">Race, Black</text>
<text class="m" transform="translate(265.5 156) scale(0.95 1)" textLength="14.35">97</text>
<text class="m" transform="translate(345 156) scale(0.95 1)" textLength="21.51">120</text>
<text class="m" transform="translate(1002.2 156) scale(0.95 1)" textLength="93.03">1.25 (0.83-1.87)</text>
<text class="r" transform="translate(185 171.87) scale(0.95 1)" textLength="68.27">Race, other</text>
<text class="m" transform="translate(265.5 171.87) scale(0.95 1)" textLength="21.51">296</text>
<text class="m" transform="translate(345 171.87) scale(0.95 1)" textLength="21.51">370</text>
<text class="m" transform="translate(1002.2 171.87) scale(0.95 1)" textLength="93.03">1.11 (0.88-1.40)</text>
<text class="r" transform="translate(185 187.74) scale(0.95 1)" textLength="116.75">Community practice</text>
<text class="m" transform="translate(265.5 187.74) scale(0.95 1)" textLength="21.51">875</text>
<text class="m" transform="translate(345 187.74) scale(0.95 1)" textLength="28.68">1090</text>
<text class="m" transform="translate(1002.2 187.74) scale(0.95 1)" textLength="93.03">1.00 (0.87-1.15)</text>
<text class="r" transform="translate(185 203.6) scale(0.95 1)" textLength="107.43">Academic practice</text>
<text class="m" transform="translate(265.5 203.6) scale(0.95 1)" textLength="21.51">162</text>
<text class="m" transform="translate(345 203.6) scale(0.95 1)" textLength="21.51">182</text>
<text class="m" transform="translate(1002.2 203.6) scale(0.95 1)" textLength="93.03">0.88 (0.58-1.34)</text>
<text class="r" transform="translate(185 219.47) scale(0.95 1)" textLength="111.91">Stage at initial Dx, I</text>
<text class="m" transform="translate(265.5 219.47) scale(0.95 1)" textLength="21.51">112</text>
<text class="m" transform="translate(345 219.47) scale(0.95 1)" textLength="21.51">137</text>
<text class="m" transform="translate(1002.2 219.47) scale(0.95 1)" textLength="93.03">0.80 (0.52-1.23)</text>
<text class="r" transform="translate(185 235.34) scale(0.95 1)" textLength="115.84">Stage at initial Dx, II</text>
<text class="m" transform="translate(265.5 235.34) scale(0.95 1)" textLength="21.51">236</text>
<text class="m" transform="translate(345 235.34) scale(0.95 1)" textLength="21.51">287</text>
<text class="m" transform="translate(1002.2 235.34) scale(0.95 1)" textLength="93.03">0.76 (0.56-1.02)</text>
<text class="r" transform="translate(185 251.2) scale(0.95 1)" textLength="118.69">Stage at initial Dx, III</text>
<text class="m" transform="translate(265.5 251.2) scale(0.95 1)" textLength="21.51">106</text>
<text class="m" transform="translate(345 251.2) scale(0.95 1)" textLength="21.51">133</text>
<text class="m" transform="translate(1002.2 251.2) scale(0.95 1)" textLength="93.03">0.93 (0.64-1.35)</text>
<text class="r" transform="translate(185 267.07) scale(0.95 1)" textLength="121.03">Stage at initial Dx, IV</text>
<text class="m" transform="translate(265.5 267.07) scale(0.95 1)" textLength="21.51">527</text>
<text class="m" transform="translate(345 267.07) scale(0.95 1)" textLength="21.51">645</text>
<text class="m" transform="translate(1002.2 267.07) scale(0.95 1)" textLength="93.03">1.15 (0.96-1.38)</text>
<text class="r" transform="translate(185 282.94) scale(0.95 1)" textLength="128.12">Stage at initial Dx, ND</text>
<text class="m" transform="translate(265.5 282.94) scale(0.95 1)" textLength="14.35">57</text>
<text class="m" transform="translate(345 282.94) scale(0.95 1)" textLength="14.35">71</text>
<text class="m" transform="translate(1002.2 282.94) scale(0.95 1)" textLength="93.03">1.00 (0.57-1.75)</text>
<text class="r" transform="translate(185 298.81) scale(0.95 1)" textLength="142.33">ECOG PS at baseline, 0</text>
<text class="m" transform="translate(265.5 298.81) scale(0.95 1)" textLength="21.51">381</text>
<text class="m" transform="translate(345 298.81) scale(0.95 1)" textLength="21.51">474</text>
<text class="m" transform="translate(1002.2 298.81) scale(0.95 1)" textLength="93.03">0.83 (0.66-1.03)</text>
<text class="r" transform="translate(185 314.67) scale(0.95 1)" textLength="142.3">ECOG PS at baseline, 1</text>
<text class="m" transform="translate(265.5 314.67) scale(0.95 1)" textLength="21.51">279</text>
<text class="m" transform="translate(345 314.67) scale(0.95 1)" textLength="21.51">333</text>
<text class="m" transform="translate(1002.2 314.67) scale(0.95 1)" textLength="93.03">1.24 (0.97-1.59)</text>
<text class="r" transform="translate(182 330.54) scale(0.95 1)" textLength="154.33">ECOG PS at baseline, 2-4</text>
<text class="m" transform="translate(265.5 330.54) scale(0.95 1)" textLength="21.51">125</text>
<text class="m" transform="translate(345 330.54) scale(0.95 1)" textLength="21.51">153</text>
<text class="m" transform="translate(1002.2 330.54) scale(0.95 1)" textLength="93.03">0.96 (0.67-1.39)</text>
<text class="r" transform="translate(185 346.41) scale(0.95 1)" textLength="154.33">ECOG PS at baseline, ND</text>
<text class="m" transform="translate(265.5 346.41) scale(0.95 1)" textLength="21.51">253</text>
<text class="m" transform="translate(345 346.41) scale(0.95 1)" textLength="21.51">313</text>
<text class="m" transform="translate(1002.2 346.41) scale(0.95 1)" textLength="93.03">1.04 (0.78-1.39)</text>
<text class="r" transform="translate(185 362.27) scale(0.95 1)" textLength="112.45"><tspan font-style="italic">De novo</tspan> metastatic</text>
<text class="m" transform="translate(265.5 362.27) scale(0.95 1)" textLength="21.51">527</text>
<text class="m" transform="translate(345 362.27) scale(0.95 1)" textLength="21.51">645</text>
<text class="m" transform="translate(1002.2 362.27) scale(0.95 1)" textLength="93.03">1.15 (0.96-1.38)</text>
<text class="r" transform="translate(185 378.14) scale(0.95 1)" textLength="80.84">DFI ≤ 1 years</text>
<text class="m" transform="translate(265.5 378.14) scale(0.95 1)" textLength="14.35">43</text>
<text class="m" transform="translate(345 378.14) scale(0.95 1)" textLength="14.35">53</text>
<text class="m" transform="translate(1002.2 378.14) scale(0.95 1)" textLength="93.03">0.95 (0.48-1.86)</text>
<text class="r" transform="translate(185 394.01) scale(0.95 1)" textLength="92.88">DFI &gt; 1-5 years</text>
<text class="m" transform="translate(265.5 394.01) scale(0.95 1)" textLength="21.51">155</text>
<text class="m" transform="translate(345 394.01) scale(0.95 1)" textLength="21.51">197</text>
<text class="m" transform="translate(1002.2 394.01) scale(0.95 1)" textLength="93.03">0.80 (0.58-1.10)</text>
<text class="r" transform="translate(185 409.87) scale(0.95 1)" textLength="81.01">DFI &gt; 5 years</text>
<text class="m" transform="translate(265.5 409.87) scale(0.95 1)" textLength="21.51">312</text>
<text class="m" transform="translate(345 409.87) scale(0.95 1)" textLength="21.51">378</text>
<text class="m" transform="translate(1002.2 409.87) scale(0.95 1)" textLength="93.03">0.82 (0.63-1.06)</text>
<text class="r" transform="translate(185 425.74) scale(0.95 1)" textLength="114.09">No visceral disease</text>
<text class="m" transform="translate(265.5 425.74) scale(0.95 1)" textLength="21.51">678</text>
<text class="m" transform="translate(345 425.74) scale(0.95 1)" textLength="21.51">828</text>
<text class="m" transform="translate(1002.2 425.74) scale(0.95 1)" textLength="93.03">0.98 (0.82-1.16)</text>
<text class="r" transform="translate(185 441.61) scale(0.95 1)" textLength="95.38">Visceral disease</text>
<text class="m" transform="translate(265.5 441.61) scale(0.95 1)" textLength="21.51">359</text>
<text class="m" transform="translate(345 441.61) scale(0.95 1)" textLength="21.51">445</text>
<text class="m" transform="translate(1002.2 441.61) scale(0.95 1)" textLength="93.03">1.01 (0.83-1.25)</text>
<text class="r" transform="translate(185 457.48) scale(0.95 1)" textLength="127.32">No bone-only disease</text>
<text class="m" transform="translate(265.5 457.48) scale(0.95 1)" textLength="21.51">561</text>
<text class="m" transform="translate(345 457.48) scale(0.95 1)" textLength="21.51">686</text>
<text class="m" transform="translate(1002.2 457.48) scale(0.95 1)" textLength="93.03">1.04 (0.87-1.24)</text>
<text class="r" transform="translate(185 473.34) scale(0.95 1)" textLength="108.01">Bone-only disease</text>
<text class="m" transform="translate(265.5 473.34) scale(0.95 1)" textLength="21.51">476</text>
<text class="m" transform="translate(345 473.34) scale(0.95 1)" textLength="21.51">587</text>
<text class="m" transform="translate(1002.2 473.34) scale(0.95 1)" textLength="93.03">0.92 (0.75-1.13)</text>
<text class="r" transform="translate(185 489.21) scale(0.95 1)" textLength="104.58">Metastatic sites, 1</text>
<text class="m" transform="translate(265.5 489.21) scale(0.95 1)" textLength="21.51">606</text>
<text class="m" transform="translate(345 489.21) scale(0.95 1)" textLength="21.51">744</text>
<text class="m" transform="translate(1002.2 489.21) scale(0.95 1)" textLength="93.03">0.98 (0.82-1.17)</text>
<text class="r" transform="translate(185 505.08) scale(0.95 1)" textLength="104.58">Metastatic sites, 2</text>
<text class="m" transform="translate(265.5 505.08) scale(0.95 1)" textLength="21.51">242</text>
<text class="m" transform="translate(345 505.08) scale(0.95 1)" textLength="21.51">305</text>
<text class="m" transform="translate(1002.2 505.08) scale(0.95 1)" textLength="93.03">0.93 (0.73-1.19)</text>
<text class="r" transform="translate(185 520.94) scale(0.95 1)" textLength="115.61">Metastatic sites, ≥ 3</text>
<text class="m" transform="translate(265.5 520.94) scale(0.95 1)" textLength="14.35">93</text>
<text class="m" transform="translate(345 520.94) scale(0.95 1)" textLength="21.51">111</text>
<text class="m" transform="translate(1002.2 520.94) scale(0.95 1)" textLength="93.03">1.09 (0.74-1.60)</text>
<text class="r" transform="translate(185 536.81) scale(0.95 1)" textLength="116.88">Metastatic sites, ND</text>
<text class="m" transform="translate(265.5 536.81) scale(0.95 1)" textLength="14.35">96</text>
<text class="m" transform="translate(345 536.81) scale(0.95 1)" textLength="21.51">113</text>
<text class="m" transform="translate(1002.2 536.81) scale(0.95 1)" textLength="93.03">1.18 (0.66-2.08)</text>
<path class="e" d="M563.12 56.1H604.72M563.12 52.4V59.8M604.72 52.4V59.8M513.41 71.97H601.46M513.41 68.27V75.67M601.46 68.27V75.67M557.43 87.83H634.07M557.43 84.13V91.53M634.07 84.13V91.53M534.6 103.7H608.68M534.6 100V107.4M608.68 100V107.4M564.85 119.57H672.27M564.85 115.87V123.27M672.27 115.87V123.27M544.39 135.44H596.56M544.39 131.74V139.13M596.56 131.74V139.13M557.43 151.3H727M557.43 147.6V155M727 147.6V155M566.48 167.17H650.37M566.48 163.47V170.87M650.37 163.47V170.87M564.85 183.04H610.21M564.85 179.34V186.74M610.21 179.34V186.74M517.77 198.9H641.99M517.77 195.2V202.6M641.99 195.2V202.6M507.79 214.77H621.75M507.79 211.07V218.47M621.75 211.07V218.47M513.41 230.64H590.01M513.41 226.94V234.34M590.01 226.94V234.34M526.45 246.5H642.22M526.45 242.8V250.2M642.22 242.8V250.2M578.03 262.37H648.71M578.03 258.67V266.07M648.71 258.67V266.07M516.24 278.24H707.44M516.24 274.54V281.94M707.44 274.54V281.94M531.31 294.11H590.04M531.31 290.41V297.81M590.04 290.41V297.81M580.26 309.97H680.45M580.26 306.27V313.67M680.45 306.27V313.67M531.34 325.84H650.44M531.34 322.14V329.54M650.44 322.14V329.54M549.28 341.71H650.44M549.28 338.01V345.41M650.44 338.01V345.41M578.03 357.57H648.71M578.03 353.87V361.27M648.71 353.87V361.27M501.36 373.44H725.97M501.36 369.74V377.14M725.97 369.74V377.14M517.77 389.31H601.46M517.77 385.61V393.01M601.46 385.61V393.01M524.82 405.17H596.93M524.82 401.47V408.87M596.93 401.47V408.87M556.4 421.04H612.04M556.4 417.34V424.74M612.04 417.34V424.74M556.43 436.91H625.91M556.43 433.21V440.61M625.91 433.21V440.61M564.85 452.78H624.28M564.85 449.08V456.48M624.28 449.08V456.48M544.39 468.64H606.35M544.39 464.94V472.34M606.35 464.94V472.34M555.1 484.51H613.77M555.1 480.81V488.21M613.77 480.81V488.21M541.13 500.38H616.93M541.13 496.68V504.08M616.93 496.68V504.08M542.76 516.24H683.98M542.76 512.54V519.94M683.98 512.54V519.94M531.31 532.11H762.54M531.31 528.41V535.81M762.54 528.41V535.81"/>
<circle class="c" cx="583.29" cy="56.1" r="4.05"/>
<circle class="c" cx="549.28" cy="71.97" r="4.05"/>
<circle class="c" cx="591.67" cy="87.83" r="4.05"/>
<circle class="c" cx="566.41" cy="103.7" r="4.05"/>
<circle class="c" cx="611.24" cy="119.57" r="4.05"/>
<circle class="c" cx="568.05" cy="135.44" r="4.05"/>
<circle class="c" cx="625.11" cy="151.3" r="4.05"/>
<circle class="c" cx="603.09" cy="167.17" r="4.05"/>
<circle class="c" cx="585.15" cy="183.04" r="4.05"/>
<circle class="c" cx="566.48" cy="198.9" r="4.05"/>
<circle class="c" cx="552.54" cy="214.77" r="4.05"/>
<circle class="c" cx="546.92" cy="230.64" r="4.05"/>
<circle class="c" cx="573.14" cy="246.5" r="4.05"/>
<circle class="c" cx="609.61" cy="262.37" r="4.05"/>
<circle class="c" cx="585.15" cy="278.24" r="4.05"/>
<circle class="c" cx="557.43" cy="294.11" r="4.05"/>
<circle class="c" cx="624.88" cy="309.97" r="4.05"/>
<circle class="c" cx="579.73" cy="325.84" r="4.05"/>
<circle class="c" cx="591.67" cy="341.71" r="4.05"/>
<circle class="c" cx="609.61" cy="357.57" r="4.05"/>
<circle class="c" cx="577" cy="373.44" r="4.05"/>
<circle class="c" cx="552.54" cy="389.31" r="4.05"/>
<circle class="c" cx="556.4" cy="405.17" r="4.05"/>
<circle class="c" cx="581.89" cy="421.04" r="4.05"/>
<circle class="c" cx="588.18" cy="436.91" r="4.05"/>
<circle class="c" cx="591.67" cy="452.78" r="4.05"/>
<circle class="c" cx="572.11" cy="468.64" r="4.05"/>
<circle class="c" cx="581.89" cy="484.51" r="4.05"/>
<circle class="c" cx="574.94" cy="500.38" r="4.05"/>
<circle class="c" cx="599.82" cy="516.24" r="4.05"/>
<circle class="c" cx="615.1" cy="532.11" r="4.05"/>
<line class="v" x1="585.15" x2="585.15" y1="48" y2="539.5"/>
<path class="ax" d="M421.35 539.5H911.65M422 539.5V548.6M463.2 539.5V545.9M504.7 539.5V548.6M543.8 539.5V545.9M585.15 539.5V548.6M626.3 539.5V545.9M667.7 539.5V548.6M708.5 539.5V545.9M748.1 539.5V548.6M789 539.5V545.9M830.2 539.5V548.6M871.7 539.5V545.9M911 539.5V548.6"/>
<text class="m" transform="translate(422 564.9) scale(0.95 1)" textLength="18.99">0.0</text>
<text class="m" transform="translate(504.1 564.9) scale(0.95 1)" textLength="18.99">0.5</text>
<text class="m" transform="translate(585.6 564.9) scale(0.95 1)" textLength="18.99">1.0</text>
<text class="m" transform="translate(668.1 564.9) scale(0.95 1)" textLength="18.99">1.5</text>
<text class="m" transform="translate(748.2 564.9) scale(0.95 1)" textLength="18.99">2.0</text>
<text class="m" transform="translate(830.6 564.9) scale(0.95 1)" textLength="18.99">2.5</text>
<text class="m" transform="translate(911 564.9) scale(0.95 1)" textLength="18.99">3.0</text>
<text class="r" transform="translate(571.9 590.9) scale(0.95 1)" textLength="102.78">Favors ABE + AI</text>
<text transform="translate(598.3 590.9) scale(0.95 1)" textLength="98.32">Favors RIB + AI</text>
<line class="ar" x1="409" x2="462.7" y1="586.6" y2="586.6"/>
<path d="M398.6 586.6L410.6 583.5L410.6 589.7Z" fill="#000"/>
<line class="ar" x1="703.2" x2="757" y1="586.6" y2="586.6"/>
<path d="M767.6 586.6L755.6 583.5L755.6 589.7Z" fill="#000"/>
</g>
</svg></body></html>
